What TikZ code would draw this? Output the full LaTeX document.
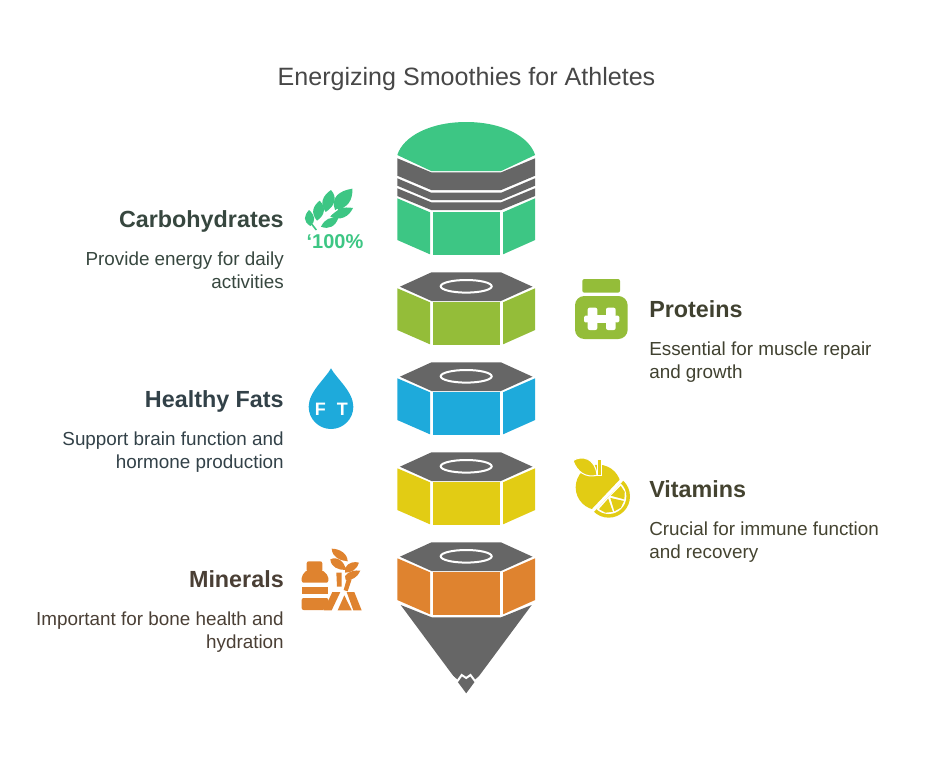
\documentclass[tikz,border=0pt]{standalone}
\usepackage{fontspec}
\setmainfont{Liberation Sans}
\usetikzlibrary{calc}
\definecolor{nut-grey}{RGB}{102,102,102}
\definecolor{carb}{RGB}{61,198,132}
\definecolor{prot}{RGB}{148,189,57}
\definecolor{fats}{RGB}{30,170,219}
\definecolor{vita}{RGB}{226,204,20}
\definecolor{mine}{RGB}{223,131,47}
\definecolor{carb-text}{RGB}{55,71,63}
\definecolor{prot-text}{RGB}{64,65,48}
\definecolor{fats-text}{RGB}{50,65,72}
\definecolor{vita-text}{RGB}{68,67,48}
\definecolor{mine-text}{RGB}{74,63,53}
\newcommand{\nutfaces}[1]{%
    \fill[#1] (-68.9,2) -- (-36.2,16) -- (-36.2,58) -- (-68.9,43.7) -- cycle;
    \fill[#1] (-33.5,16) -- (33.8,16) -- (33.8,58.5) -- (-33.5,58.5) -- cycle;
    \fill[#1] (68.9,2) -- (36.8,16) -- (36.8,58) -- (68.9,43.7) -- cycle;
}
\tikzset{
    title/.style = {inner sep=0pt, font=\fontsize{18.8}{22}\selectfont, text=black!72},
    head/.style = {inner sep=0pt, font=\fontsize{17.5}{21}\selectfont\bfseries},
    body/.style = {inner sep=0pt, font=\fontsize{14.15}{17.25}\selectfont},
    icon/.style = {x=.25pt,y=-.25pt},
    pics/nut/.style = {
        code = {%
        \fill[nut-grey] (-34.7,-14) -- (34.7,-14) -- (66.3,0.4) -- (34.7,14.7) -- (-34.7,14.7) -- (-66.3,0.4) -- cycle;
        \draw[white,line width=1.5pt] (0,0) ellipse [x radius=25.5, y radius=6.3];
        \nutfaces{#1}
        }
    },
    pics/cap/.style = {
        code = {%
        \fill[carb] (-68.9,-41.3) .. controls (-63,-60) and (-36,-74.3) .. (0,-74.3) .. controls (36,-74.3) and (63,-60) .. (68.9,-41.3) -- (35,-25.3) -- (-35,-25.3) -- cycle;
        \fill[nut-grey] (-68.9,-38) -- (-35,-24) -- (35,-24) -- (68.9,-38) -- (68.9,-20.6) -- (35,-6.3) -- (-35,-6.3) -- (-68.9,-20.6) -- cycle;
        \fill[nut-grey] (-68.9,-18) -- (-35,-3.6) -- (35,-3.6) -- (68.9,-18) -- (68.9,-10.6) -- (35,3.7) -- (-35,3.7) -- (-68.9,-10.6) -- cycle;
        \fill[nut-grey] (-68.9,-8) -- (-35,6) -- (35,6) -- (68.9,-8) -- (68.9,-0.3) -- (35,13.7) -- (-35,13.7) -- (-68.9,-0.3) -- cycle;
        \nutfaces{carb}
        }
    },
    pics/wheat/.style = {
        code = {%
        \begin{scope}[icon]
        \fill[carb] (120,90) .. controls (106,50) and (135,32) .. (172,26) .. controls (174,60) and (158,86) .. (120,90) -- cycle;
        \fill[carb] (92,96) .. controls (72,70) and (84,46) .. (108,30) .. controls (128,52) and (120,78) .. (92,96) -- cycle;
        \fill[carb] (106,110) .. controls (122,82) and (146,80) .. (174,84) .. controls (162,110) and (136,124) .. (106,110) -- cycle;
        \fill[carb] (66,122) .. controls (46,98) and (54,78) .. (74,62) .. controls (94,82) and (90,106) .. (66,122) -- cycle;
        \fill[carb] (78,140) .. controls (90,116) and (106,110) .. (130,114) .. controls (122,138) and (102,150) .. (78,140) -- cycle;
        \fill[carb] (46,138) .. controls (24,124) and (26,108) .. (42,90) .. controls (60,106) and (64,122) .. (46,138) -- cycle;
        \draw[white,line width=.9pt] (62,138) -- (128,88);
        \draw[carb,line width=1.2pt] (50,132) -- (64,150);
        \node[text=carb,inner sep=0pt,font=\fontsize{15}{16}\selectfont\bfseries,anchor=base] (-label) at (120,205) {‘100\%};
        \end{scope}
        }
    },
    pics/jar/.style = {
        code = {%
        \begin{scope}[icon]
        \fill[prot,rounded corners=1.5pt] (52,27) rectangle (165,68);
        \fill[prot,rounded corners=7pt] (30,78) rectangle (188,207);
        \fill[white,rounded corners=1.5pt] (68,113) rectangle (97,180);
        \fill[white,rounded corners=1.5pt] (123,113) rectangle (152,180);
        \fill[white] (95,136) rectangle (125,158);
        \fill[white,rounded corners=1pt] (57,137) rectangle (72,157);
        \fill[white,rounded corners=1pt] (148,137) rectangle (163,157);
        \end{scope}
        }
    },
    pics/drop/.style = {
        code = {%
        \begin{scope}[icon]
        \fill[fats] (108,25) .. controls (92,55) and (41,95) .. (41,140) .. controls (41,178) and (72,207) .. (108,207) .. controls (144,207) and (175,178) .. (175,140) .. controls (175,95) and (124,55) .. (108,25) -- cycle;
        \node[text=white,inner sep=0pt,font=\fontsize{13.5}{14}\selectfont\bfseries] (-f) at (76,148) {F};
        \node[text=white,inner sep=0pt,font=\fontsize{13.5}{14}\selectfont\bfseries] (-t) at (142,148) {T};
        \end{scope}
        }
    },
    pics/citrus/.style = {
        code = {%
        \begin{scope}[icon]
        \coordinate (-c) at (131,139);
        \coordinate (-b) at (123,132);
        \begin{scope}
        \clip ($(-b)+(-46.6:150)$) -- ($(-b)+(133.4:150)$) -- ($(-b)+(223.4:150)$) -- ($(-b)+(-46.6:150)+(223.4:150)$) -- cycle;
        \fill[vita] (100,112) circle [radius=68];
        \end{scope}
        \filldraw[vita,draw=white,line width=.8pt] (24,32) .. controls (50,14) and (92,24) .. (96,76) .. controls (62,84) and (36,66) .. (24,32) -- cycle;
        \filldraw[vita,draw=white,line width=.8pt] (98,28) -- (109,28) -- (109,76) -- (98,76) -- cycle;
        \begin{scope}
        \clip ($(-c)+(-46.6:90)$) -- ($(-c)+(-46.6:90)+(43.4:90)$) -- ($(-c)+(133.4:90)+(43.4:90)$) -- ($(-c)+(133.4:90)$) -- cycle;
        \fill[vita] (-c) circle [radius=64];
        \fill[white] (-c) circle [radius=53];
        \end{scope}
        \fill[vita] ($(-c)+(-15:7)$) -- ($(-c)+(-41:48)$) -- ($(-c)+(-15:50)$) -- ($(-c)+(11:48)$) -- cycle;
        \fill[vita] ($(-c)+(43:7)$) -- ($(-c)+(17:48)$) -- ($(-c)+(43:50)$) -- ($(-c)+(69:48)$) -- cycle;
        \fill[vita] ($(-c)+(101:7)$) -- ($(-c)+(75:48)$) -- ($(-c)+(101:50)$) -- ($(-c)+(127:48)$) -- cycle;
        \end{scope}
        }
    },
    pics/plant/.style = {
        code = {%
        \begin{scope}[icon]
        \fill[mine,rounded corners=1.5pt] (35,58) rectangle (82,90);
        \fill[mine,rounded corners=1.5pt] (20,122) -- (20,102) -- (35,84) -- (82,84) -- (100,102) -- (100,122) -- cycle;
        \fill[mine] (20,134) rectangle (100,156);
        \fill[mine,rounded corners=1.5pt] (20,168) -- (100,168) -- (100,185) -- (90,204) -- (20,204) -- cycle;
        \fill[mine] (110,20) .. controls (135,20) and (158,36) .. (158,58) .. controls (136,56) and (112,46) .. (110,20) -- cycle;
        \fill[mine] (106,52) .. controls (125,42) and (150,58) .. (152,84) .. controls (130,84) and (108,76) .. (106,52) -- cycle;
        \fill[mine] (150,78) .. controls (160,60) and (180,58) .. (192,62) .. controls (186,82) and (170,92) .. (150,92) -- cycle;
        \fill[mine] (150,102) .. controls (162,86) and (182,84) .. (196,86) .. controls (188,106) and (170,116) .. (152,114) -- cycle;
        \fill[mine] (124,92) -- (140,92) -- (140,134) -- (126,134) -- cycle;
        \fill[mine] (155,112) -- (170,112) -- (158,148) -- (146,144) -- cycle;
        \fill[mine] (112,150) -- (136,150) -- (110,205) -- (86,205) -- cycle;
        \fill[mine] (148,160) -- (170,205) -- (128,205) -- cycle;
        \fill[mine] (155,150) -- (178,150) -- (200,205) -- (175,205) -- cycle;
        \end{scope}
        }
    },
}
\begin{document}
\begin{tikzpicture}[x=.75pt,y=-.75pt]
\useasboundingbox (0,0) rectangle (933,758);

\node[title,anchor=base] (title) at (466.5,85) {Energizing Smoothies for Athletes};

\pic (n0) at (466.2,196.3) {cap};
\pic (n1) at (466.2,286.3) {nut=prot};
\pic (n2) at (466.2,376.3) {nut=fats};
\pic (n3) at (466.2,466.3) {nut=vita};
\pic (n4) at (466.2,556.3) {nut=mine};

% tip under the last nut
\fill[nut-grey] (400.7,605) -- (431.7,617.3) -- (501,617.3) -- (531.7,605) -- (466.2,693.3) -- cycle;
\draw[white,line width=1.5pt] (449,674) -- (457.5,681) -- (461.7,675) -- (466.2,678) -- (470.5,675) -- (475,681) -- (483.5,674);

\pic (i0) at (295,180) {wheat};
\pic (i1) at (565,270) {jar};
\pic (i2) at (295,360) {drop};
\pic (i3) at (565,450) {citrus};
\pic (i4) at (295,542) {plant};

\node[head,text=carb-text,anchor=base east] (h0) at (284,227.5) {Carbohydrates};
\node[body,text=carb-text,anchor=base east,align=right] (b0) at (284,288.5) {Provide energy for daily\\activities};
\node[head,text=prot-text,anchor=base west] (h1) at (649,317.5) {Proteins};
\node[body,text=prot-text,anchor=base west,align=left] (b1) at (649,378.5) {Essential for muscle repair\\and growth};
\node[head,text=fats-text,anchor=base east] (h2) at (284,407.5) {Healthy Fats};
\node[body,text=fats-text,anchor=base east,align=right] (b2) at (284,468.5) {Support brain function and\\hormone production};
\node[head,text=vita-text,anchor=base west] (h3) at (649,497.5) {Vitamins};
\node[body,text=vita-text,anchor=base west,align=left] (b3) at (649,558.5) {Crucial for immune function\\and recovery};
\node[head,text=mine-text,anchor=base east] (h4) at (284,587.5) {Minerals};
\node[body,text=mine-text,anchor=base east,align=right] (b4) at (284,648.5) {Important for bone health and\\hydration};
\end{tikzpicture}
\end{document}
